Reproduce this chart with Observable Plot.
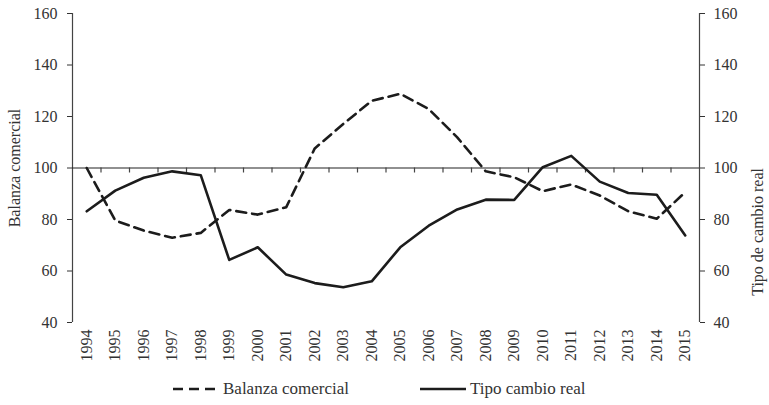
<!DOCTYPE html>
<html><head><meta charset="utf-8">
<script src="https://cdn.jsdelivr.net/npm/d3@7"></script>
<script src="https://cdn.jsdelivr.net/npm/@observablehq/plot@0.6"></script>
<style>
body{margin:0;background:#fff;}
#wrap{position:relative;width:769px;height:405px;overflow:hidden;font-family:"Liberation Serif",serif;color:#333;background:#fff;}
#chart{position:absolute;left:0;top:0;}
#legend{position:absolute;top:377px;left:0;width:769px;height:24px;font-size:17px;}
.item{position:absolute;top:0;display:flex;align-items:center;height:24px;white-space:nowrap;}
.item svg{margin-right:4px;}
</style></head><body>
<div id="wrap"><div id="chart"></div><div id="legend"></div></div>
<script>
const years = [1994,1995,1996,1997,1998,1999,2000,2001,2002,2003,2004,2005,2006,2007,2008,2009,2010,2011,2012,2013,2014,2015];
const balanza = [100,79.6,75.7,72.9,74.8,83.7,81.9,84.8,107.6,117.1,126.1,128.8,122.9,111.9,98.7,96.4,91.0,93.6,89.3,83.2,80.3,90.6];
const tipo = [83.2,91.2,96.2,98.7,97.2,64.3,69.2,58.6,55.3,53.7,56.0,69.2,77.6,83.9,87.7,87.6,100.3,104.7,94.7,90.3,89.6,73.8];
const yTicks = [40,60,80,100,120,140,160];
const seriesNames = ["Balanza comercial","Tipo cambio real"];
const axisLabels = ["Balanza comercial","Tipo de cambio real"];

const rows = years.map((y,i)=>({year:y, balanza:balanza[i], tipo:tipo[i]}));
const edges = [years[0]-0.5, years[years.length-1]+0.5];
const bounds = years.slice(1).map(y=>y-0.5);
const ink = "#1c1c1c";
const dash = "10,6";

const chart = Plot.plot({
  width: 769, height: 372,
  marginLeft: 72, marginRight: 70, marginTop: 13, marginBottom: 50,
  style: {fontFamily: '"Liberation Serif", serif', fontSize: "16px", color: "#333", background: "white", overflow: "visible"},
  x: {domain: edges},
  y: {domain: [40,160]},
  marks: [
    Plot.ruleX(edges, {stroke: "#444", strokeWidth: 1.2}),
    Plot.ruleY([100], {stroke: "#222", strokeWidth: 1.2}),
    Plot.ruleX(bounds, {y1: 100, y2: 100, insetBottom: -5, stroke: "#444", strokeWidth: 1.2}),
    Plot.axisY({anchor: "left", ticks: yTicks, tickSize: 5, tickPadding: 10, label: axisLabels[0], labelAnchor: "center", labelOffset: 64, labelArrow: "none"}),
    Plot.axisY({anchor: "right", ticks: yTicks, tickSize: 5, tickPadding: 9, label: null}),
    Plot.text([axisLabels[1]], {frameAnchor: "right", rotate: -90, dx: 58, text: d => d, fontSize: 16, fill: "#333"}),
    Plot.axisX({anchor: "bottom", ticks: years, tickSize: 0, tickRotate: -90, tickPadding: 7, tickFormat: d => String(d), label: null}),
    Plot.line(rows, {x: "year", y: "balanza", stroke: ink, strokeWidth: 2.6, strokeDasharray: dash}),
    Plot.line(rows, {x: "year", y: "tipo", stroke: ink, strokeWidth: 2.6})
  ]
});
document.getElementById("chart").append(chart);

const legend = document.getElementById("legend");
const items = [
  {name: seriesNames[0], left: 173, dash: dash},
  {name: seriesNames[1], left: 420, dash: null}
];
for (const it of items) {
  const d = document.createElement("div");
  d.className = "item";
  d.style.left = it.left + "px";
  d.innerHTML = `<svg width="46" height="10"><line x1="0" x2="46" y1="5" y2="5" stroke="${ink}" stroke-width="2.6" ${it.dash ? `stroke-dasharray="${it.dash}"` : ""}/></svg><span>${it.name}</span>`;
  legend.append(d);
}
</script>
</body></html>
